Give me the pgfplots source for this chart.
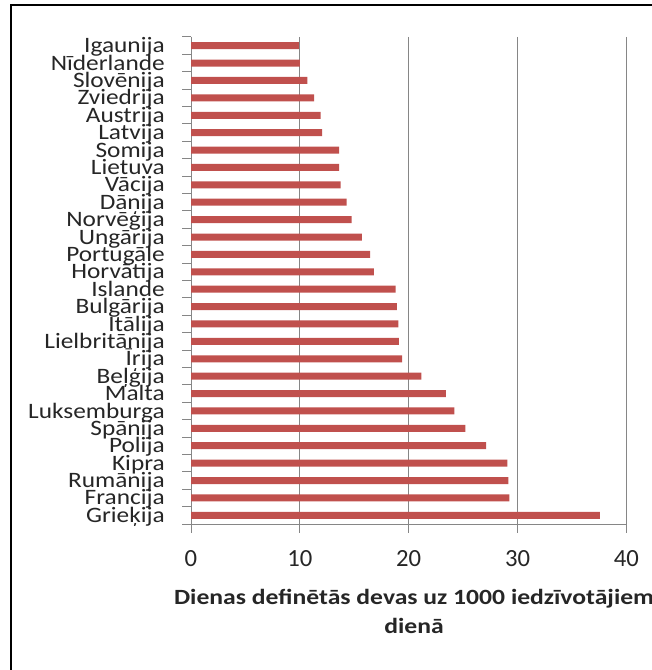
\documentclass[border=0pt]{standalone}
\usepackage{fontspec}
\setmainfont{Carlito}
\newfontfamily\catfont[FakeStretch=1.15]{Carlito}
\newfontfamily\labfont[FakeStretch=1.18]{Carlito}
\usepackage{pgfplots}
\pgfplotsset{compat=1.18}
\definecolor{barred}{RGB}{192,80,77}
\definecolor{gridgray}{RGB}{134,134,134}
\definecolor{txt}{RGB}{38,38,38}
\begin{document}
\begin{tikzpicture}
\useasboundingbox (0,0) rectangle (489pt,502.5pt);
% frame (left and top edges only, as in the cropped original)
\draw[line width=1.5pt] (8.25pt,0) -- (8.25pt,498.75pt) -- (489pt,498.75pt);
\begin{axis}[
    at={(143.25pt,109.5pt)}, anchor=south west,
    scale only axis,
    width=326.6pt, height=365.25pt,
    xbar, bar width=5.25pt,
    xmin=0, xmax=40,
    ymin=-0.5, ymax=27.5,
    y dir=reverse,
    axis x line=bottom, axis y line=left,
    axis line style={draw=gridgray, line width=0.75pt, -},
    xtick={0,10,...,40},
    minor xtick={0,10,...,40},
    ytick={0,...,27},
    minor ytick={-0.5,0.5,...,27.5},
    major tick length=0pt,
    minor tick length=6.5pt,
    tick align=outside,
    tick style={draw=gridgray, line width=0.75pt},
    xmajorgrids,
    grid style={draw=gridgray, line width=0.75pt},
    /pgf/number format/assume math mode=true,
    xticklabel style={font=\fontsize{18.5}{20}\selectfont, text=txt, anchor=north, inner sep=0pt, yshift=-19.5pt},
    yticklabel style={font=\catfont\fontsize{16.5}{18}\selectfont, text=txt, anchor=base east, inner sep=0pt, xshift=-19.5pt, yshift=-5.3pt},
    yticklabels={Igaunija,Nīderlande,Slovēnija,Zviedrija\ ,Austrija,Latvija,Somija,Lietuva,Vācija,Dānija,Norvēģija,Ungārija,Portugāle,Horvātija,Islande,Bulgārija,Itālija,Lielbritānija,Īrija,Beļģija,Malta,Luksemburga,Spānija,Polija,Kipra,Rumānija,Francija,Grieķija},
    xlabel={Dienas definētās devas uz 1000 iedzīvotājiem\\dienā},
    xlabel style={at={(axis description cs:0.5,0)}, anchor=north, inner sep=0pt, xshift=4pt, yshift=-49pt, align=center, text=txt, font=\labfont\bfseries\fontsize{16.3}{21.75}\selectfont},
    ]
\addplot[fill=barred, draw=none] coordinates {
 (9.9,0) (10.0,1) (10.7,2) (11.3,3) (11.9,4) (12.05,5) (13.6,6) (13.6,7)
 (13.75,8) (14.3,9) (14.75,10) (15.7,11) (16.45,12) (16.8,13) (18.8,14)
 (18.9,15) (19.05,16) (19.1,17) (19.4,18) (21.15,19) (23.4,20) (24.2,21)
 (25.2,22) (27.1,23) (29.05,24) (29.15,25) (29.25,26) (37.55,27)
};
\end{axis}
\end{tikzpicture}
\end{document}
